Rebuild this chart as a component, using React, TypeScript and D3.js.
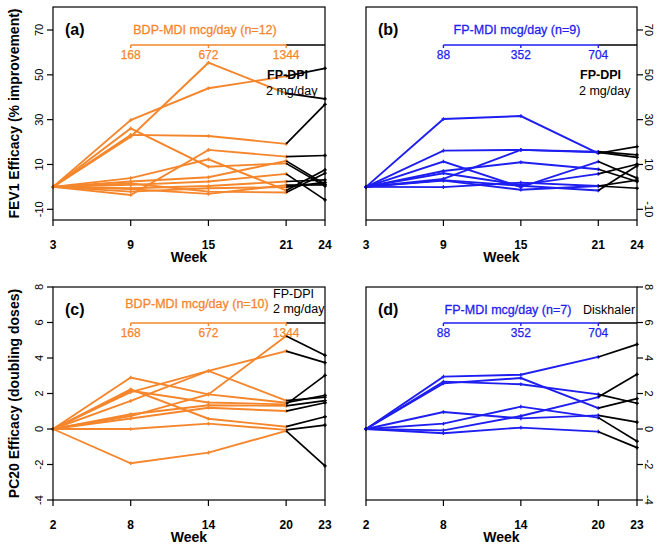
import React from 'react';
import * as d3 from 'd3';

// ---------- data ----------
const weeksFev = [3, 9, 15, 21, 24];
const weeksPc20 = [2, 8, 14, 20, 23];
const fevTicks = [-10, 10, 30, 50, 70];
const pc20Ticks = [-4, -2, 0, 2, 4, 6, 8];
const bdpDoses = ['168', '672', '1344'];
const fpDoses = ['88', '352', '704'];

// FEV1 efficacy (% improvement), BDP-MDI subjects (n=12): weeks 3,9,15,21 then FP-DPI week 24
const bdpFev: number[][] = [
  [0, 22.4, 55.4, 41.7, 39.3],
  [0, 29.8, 44.0, 49.4, 52.9],
  [0, 23.2, 22.7, 19.2, 36.8],
  [0, 26.1, 9.0, 10.5, 0.4],
  [0, -3.6, 16.5, 13.5, 14.0],
  [0, 3.9, 12.3, -1.6, 7.6],
  [0, 2.4, 4.3, 11.6, 1.2],
  [0, 0.9, 2.4, 5.8, -5.8],
  [0, -0.6, 0.4, 2.4, 3.1],
  [0, -2.1, -0.6, -0.1, 2.0],
  [0, 1.5, -2.1, -2.5, 6.1],
  [0, -1.0, -3.1, 0.8, 0.9],
];

// FEV1 efficacy, FP-MDI subjects (n=9)
const fpFev: number[][] = [
  [0, 30.3, 31.6, 15.0, 18.0],
  [0, 16.2, 16.5, 15.7, 14.3],
  [0, 3.6, 16.5, 15.4, 13.2],
  [0, 11.3, -0.1, 11.3, 3.9],
  [0, 7.1, 11.0, 7.9, 2.4],
  [0, 6.1, 0.9, 5.8, 10.1],
  [0, 2.8, -1.3, 0.4, 3.0],
  [0, -0.1, 1.9, 0.4, -0.6],
  [0, 3.0, 0.5, -1.6, 9.4],
];

// PC20 efficacy (doubling doses), BDP-MDI subjects (n=10): weeks 2,8,14,20 then week 23
const bdpPc20: number[][] = [
  [0, 0.73, 1.95, 5.24, 4.15],
  [0, 2.08, 3.27, 4.39, 3.74],
  [0, 1.58, 3.27, 1.6, 1.8],
  [0, 2.9, 1.95, 1.48, 1.9],
  [0, 2.24, 0.58, 0.13, 0.69],
  [0, 2.15, 1.49, 1.39, 3.02],
  [0, 0.83, 1.34, 1.3, 1.6],
  [0, 0.59, 1.2, 1.01, 1.48],
  [0, 0.0, 0.3, -0.05, 0.22],
  [0, -1.93, -1.33, -0.11, -2.08],
];

// PC20 efficacy, FP-MDI subjects (n=7)
const fpPc20: number[][] = [
  [0, 2.95, 3.06, 4.06, 4.77],
  [0, 2.57, 2.87, 1.18, 1.71],
  [0, 2.67, 2.52, 1.95, 1.45],
  [0, 0.96, 0.6, 0.77, 0.39],
  [0, 0.3, 1.26, 0.64, -0.69],
  [0, -0.08, 0.73, 1.8, 3.08],
  [0, -0.24, 0.08, -0.15, -1.05],
];

// ---------- styles ----------
const ORANGE = '#F5862C';
const BLUE = '#1E1EF0';
const BLACK = '#000';
const FONT = '"Liberation Sans", Arial, Helvetica, sans-serif';

type PanelProps = {
  x0: number;
  x1: number;
  y0: number;
  y1: number;
  yDomain: [number, number];
  weeks: number[];
  yTicks: number[];
  side: 'left' | 'right';
  data: number[][];
  color: string;
  tag: string;
  tagX: number;
  title: string;
  titleX: number;
  titleY: number;
  doses: string[];
  bracketY: number;
  notes: { text: string; x: number; y: number; bold?: boolean }[];
  yTitle?: string;
};

function Panel(p: PanelProps) {
  const x = d3
    .scaleLinear()
    .domain([p.weeks[0], p.weeks[p.weeks.length - 1]])
    .range([p.x0, p.x1]);
  const y = d3.scaleLinear().domain(p.yDomain).range([p.y1, p.y0]);
  const line = d3
    .line<[number, number]>()
    .x((d) => x(d[0]))
    .y((d) => y(d[1]));

  const plus = (cx: number, cy: number, col: string, key: string) => (
    <path
      key={key}
      d={`M${cx - 1.8},${cy}H${cx + 1.8}M${cx},${cy - 1.8}V${cy + 1.8}`}
      stroke={col}
      strokeWidth={1.3}
    />
  );

  const doseWeeks = p.weeks.slice(1, 4);
  const lastW = p.weeks[3];

  return (
    <g fontFamily={FONT}>
      {/* colored trajectories */}
      {p.data.map((row, i) => {
        const pts = row.slice(0, 4).map((v, j) => [p.weeks[j], v] as [number, number]);
        return (
          <g key={'c' + i}>
            <path d={line(pts) || ''} fill="none" stroke={p.color} strokeWidth={1.9} />
            {pts.map((d, j) => plus(x(d[0]), y(d[1]), p.color, 'm' + j))}
          </g>
        );
      })}
      {/* black FP-DPI segments */}
      {p.data.map((row, i) => {
        const pts: [number, number][] = [
          [p.weeks[3], row[3]],
          [p.weeks[4], row[4]],
        ];
        return (
          <g key={'b' + i}>
            <path d={line(pts) || ''} fill="none" stroke={BLACK} strokeWidth={1.7} />
            {plus(x(pts[1][0]), y(pts[1][1]), BLACK, 'e')}
          </g>
        );
      })}

      {/* box */}
      <rect
        x={p.x0}
        y={p.y0}
        width={p.x1 - p.x0}
        height={p.y1 - p.y0}
        fill="none"
        stroke={BLACK}
        strokeWidth={1.2}
      />

      {/* x axis */}
      {p.weeks.map((w) => (
        <g key={'xt' + w}>
          <line x1={x(w)} x2={x(w)} y1={p.y1} y2={p.y1 + 6} stroke={BLACK} strokeWidth={1.2} />
          <text
            x={x(w)}
            y={p.y1 + 29}
            textAnchor="middle"
            fontSize={12}
            fontWeight="bold"
          >
            {w}
          </text>
        </g>
      ))}
      <text
        x={(p.x0 + p.x1) / 2}
        y={p.y1 + 42}
        textAnchor="middle"
        fontSize={14}
        fontWeight="bold"
      >
        Week
      </text>

      {/* y axis */}
      {p.yTicks.map((t) => {
        const yy = y(t);
        if (p.side === 'left') {
          return (
            <g key={'yt' + t}>
              <line x1={p.x0 - 6} x2={p.x0} y1={yy} y2={yy} stroke={BLACK} strokeWidth={1.2} />
              <text
                transform={`translate(${p.x0 - 10},${yy}) rotate(-90)`}
                textAnchor="middle"
                fontSize={11}
              >
                {t}
              </text>
            </g>
          );
        }
        return (
          <g key={'yt' + t}>
            <line x1={p.x1} x2={p.x1 + 6} y1={yy} y2={yy} stroke={BLACK} strokeWidth={1.2} />
            <text
              transform={`translate(${p.x1 + 8},${yy}) rotate(90)`}
              textAnchor="middle"
              fontSize={11}
            >
              {t}
            </text>
          </g>
        );
      })}
      {p.yTitle && (
        <text
          transform={`translate(19,${(p.y0 + p.y1) / 2}) rotate(-90)`}
          textAnchor="middle"
          fontSize={14}
          fontWeight="bold"
        >
          {p.yTitle}
        </text>
      )}

      {/* panel tag */}
      <text x={p.tagX} y={p.y0 + 28} fontSize={16} fontWeight="bold">
        {p.tag}
      </text>

      {/* dose bracket */}
      <text
        x={p.titleX}
        y={p.titleY}
        textAnchor="middle"
        fontSize={12.5}
        fill={p.color}
        stroke={p.color}
        strokeWidth={0.3}
      >
        {p.title}
      </text>
      <line
        x1={x(doseWeeks[0])}
        x2={x(lastW)}
        y1={p.bracketY}
        y2={p.bracketY}
        stroke={p.color}
        strokeWidth={1.4}
      />
      <line
        x1={x(lastW)}
        x2={p.x1}
        y1={p.bracketY}
        y2={p.bracketY}
        stroke={BLACK}
        strokeWidth={1.4}
      />
      {doseWeeks.map((w, i) => (
        <g key={'d' + w}>
          <line
            x1={x(w)}
            x2={x(w)}
            y1={p.bracketY}
            y2={p.bracketY + 3}
            stroke={p.color}
            strokeWidth={1.4}
          />
          <text
            x={x(w)}
            y={p.bracketY + 14}
            textAnchor="middle"
            fontSize={12}
            fill={p.color}
            stroke={p.color}
            strokeWidth={0.25}
          >
            {p.doses[i]}
          </text>
        </g>
      ))}

      {p.notes.map((n, i) => (
        <text
          key={'n' + i}
          x={n.x}
          y={n.y}
          fontSize={12.5}
          fontWeight={n.bold ? 'bold' : 'normal'}
          fill={BLACK}
        >
          {n.text}
        </text>
      ))}
    </g>
  );
}

export default function App() {
  const fevDomain: [number, number] = [-14.77, 80.26];
  const pcDomain: [number, number] = [-4, 8];
  return (
    <svg
      width={664}
      height={549}
      viewBox="0 0 664 549"
      style={{ position: 'absolute', left: 0, top: 0, background: '#fff' }}
    >
      <rect x={0} y={0} width={664} height={549} fill="#fff" />
      <Panel
        x0={53}
        x1={325}
        y0={7}
        y1={220}
        yDomain={fevDomain}
        weeks={weeksFev}
        yTicks={fevTicks}
        side="left"
        data={bdpFev}
        color={ORANGE}
        tag="(a)"
        tagX={65}
        title="BDP-MDI mcg/day (n=12)"
        titleX={205}
        titleY={34}
        doses={bdpDoses}
        bracketY={45}
        notes={[
          { text: 'FP-DPI', x: 267, y: 79, bold: true },
          { text: '2 mg/day', x: 266, y: 95 },
        ]}
        yTitle="FEV1 Efficacy (% improvement)"
      />
      <Panel
        x0={366}
        x1={637}
        y0={7}
        y1={220}
        yDomain={fevDomain}
        weeks={weeksFev}
        yTicks={fevTicks}
        side="right"
        data={fpFev}
        color={BLUE}
        tag="(b)"
        tagX={378}
        title="FP-MDI mcg/day (n=9)"
        titleX={517}
        titleY={34}
        doses={fpDoses}
        bracketY={45}
        notes={[
          { text: 'FP-DPI', x: 580, y: 79, bold: true },
          { text: '2 mg/day', x: 579, y: 95 },
        ]}
      />
      <Panel
        x0={53}
        x1={325}
        y0={287}
        y1={500}
        yDomain={pcDomain}
        weeks={weeksPc20}
        yTicks={pc20Ticks}
        side="left"
        data={bdpPc20}
        color={ORANGE}
        tag="(c)"
        tagX={65}
        title="BDP-MDI mcg/day (n=10)"
        titleX={197}
        titleY={308}
        doses={bdpDoses}
        bracketY={323}
        notes={[
          { text: 'FP-DPI', x: 273, y: 298 },
          { text: '2 mg/day', x: 273, y: 313 },
        ]}
        yTitle="PC20 Efficacy (doubling doses)"
      />
      <Panel
        x0={366}
        x1={637}
        y0={287}
        y1={500}
        yDomain={pcDomain}
        weeks={weeksPc20}
        yTicks={pc20Ticks}
        side="right"
        data={fpPc20}
        color={BLUE}
        tag="(d)"
        tagX={378}
        title="FP-MDI mcg/day (n=7)"
        titleX={508}
        titleY={314}
        doses={fpDoses}
        bracketY={323}
        notes={[{ text: 'Diskhaler', x: 583, y: 314 }]}
      />
    </svg>
  );
}
